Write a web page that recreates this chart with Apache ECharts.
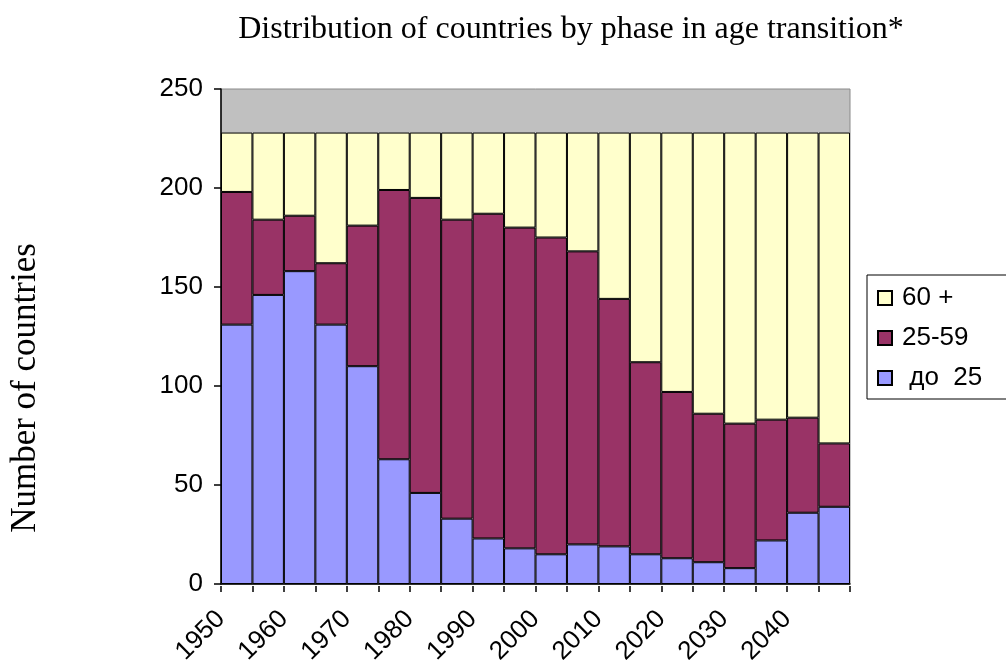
<!DOCTYPE html>
<html>
<head>
<meta charset="utf-8">
<script src="https://cdn.jsdelivr.net/npm/echarts@6/dist/echarts.min.js"></script>
<style>html,body{margin:0;padding:0;background:#fff;}#c{width:1006px;height:664px;}</style>
</head>
<body>
<div id="c"></div>
<script>
var categories = ['1950','1955','1960','1965','1970','1975','1980','1985','1990','1995','2000','2005','2010','2015','2020','2025','2030','2035','2040','2045'];
var tickLabels = ['1950','1960','1970','1980','1990','2000','2010','2020','2030','2040'];
var under25 = [131,146,158,131,110,63,46,33,23,18,15,20,19,15,13,11,8,22,36,39];
var age25to59 = [67,38,28,31,71,136,149,151,164,162,160,148,125,97,84,75,73,61,48,32];
var age60plus = [30,44,42,66,47,29,33,44,41,48,53,60,84,116,131,142,147,145,144,157];
var seriesNames = ['60 +', '25-59', ' до  25'];

var boundaries = categories.concat(['']);
var chart = echarts.init(document.getElementById('c'));
var sans = 'Liberation Sans, Arial, sans-serif';
var serif = 'Liberation Serif, Times New Roman, serif';
var barStyle = function (c) { return { color: c, borderColor: '#000', borderWidth: 1 }; };
chart.setOption({
  animation: false,
  backgroundColor: '#fff',
  title: {
    text: 'Distribution of countries by phase in age transition*',
    left: 566, textAlign: 'center', top: 9,
    textStyle: { fontFamily: serif, fontSize: 32, fontWeight: 'normal', color: '#000' }
  },
  legend: {
    orient: 'vertical', left: 867, top: 275,
    data: seriesNames,
    icon: 'rect', itemWidth: 14, itemHeight: 14, itemGap: 14,
    padding: [10, 80, 8, 10],
    borderColor: '#000', borderWidth: 1, backgroundColor: '#fff',
    textStyle: { fontFamily: sans, fontSize: 26, color: '#000', padding: [0, 0, 0, 5] }
  },
  grid: {
    left: 221, right: 156, top: 89, bottom: 80,
    outerBoundsMode: 'none', containLabel: false,
    show: true, backgroundColor: '#C0C0C0', borderColor: '#8a8a8a', borderWidth: 1
  },
  xAxis: [{
    type: 'category', data: categories, boundaryGap: true,
    axisLine: { lineStyle: { color: '#000', width: 1.5 } },
    axisTick: { show: false }, axisLabel: { show: false }
  }, {
    type: 'category', data: boundaries, boundaryGap: false, position: 'bottom', offset: 2,
    axisLine: { show: false },
    axisTick: { show: true, interval: 0, length: 6, lineStyle: { color: '#000', width: 1.5 } },
    axisLabel: {
      interval: 0, rotate: 45, margin: 29,
      fontFamily: sans, fontSize: 26, color: '#000',
      formatter: function (v) { return tickLabels.indexOf(v) >= 0 ? v : ''; }
    }
  }],
  yAxis: {
    type: 'value', min: 0, max: 250, interval: 50,
    name: 'Number of countries', nameLocation: 'middle', nameRotate: 90, nameGap: 178,
    nameTextStyle: { fontFamily: serif, fontSize: 35, color: '#000', padding: [0, 103, 0, 0] },
    axisLine: { show: true, lineStyle: { color: '#000', width: 1.5 } },
    axisTick: { show: true, length: 7, lineStyle: { color: '#000', width: 1.5 } },
    axisLabel: { margin: 18, fontFamily: sans, fontSize: 26, color: '#000' },
    splitLine: { show: false }
  },
  series: [
    { name: seriesNames[2], type: 'bar', stack: 't', data: under25, barWidth: '100%', barCategoryGap: 0, itemStyle: barStyle('#9999FF') },
    { name: seriesNames[1], type: 'bar', stack: 't', data: age25to59, barWidth: '100%', itemStyle: barStyle('#993366') },
    { name: seriesNames[0], type: 'bar', stack: 't', data: age60plus, barWidth: '100%', itemStyle: barStyle('#FFFFCC') }
  ]
});
</script>
</body>
</html>
